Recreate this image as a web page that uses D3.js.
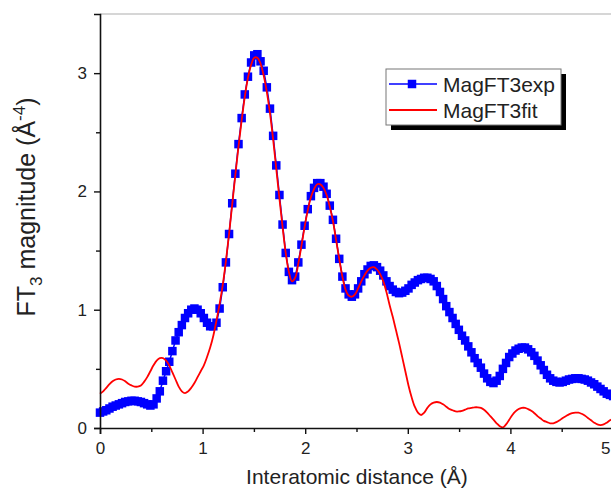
<!DOCTYPE html>
<html>
<head>
<meta charset="utf-8">
<script src="https://cdn.jsdelivr.net/npm/d3@7"></script>
<style>
  body { margin: 0; background: #fff; }
  svg { display: block; font-family: "Liberation Sans", Arial, sans-serif; }
</style>
</head>
<body>
<div id="chart"></div>
<script>
// R grid step of the transform (Å)
var rStep = 0.03068;

// MagFT3exp, one value per grid point
var expValues = [
  0.13, 0.14, 0.15, 0.165, 0.18, 0.19, 0.20, 0.21, 0.22, 0.225,
  0.23, 0.23, 0.225, 0.22, 0.21, 0.20, 0.19, 0.20, 0.25, 0.31,
  0.40, 0.48, 0.56, 0.65, 0.74, 0.81, 0.87, 0.93, 0.97, 1.00,
  1.01, 1.00, 0.97, 0.93, 0.89, 0.86, 0.86, 0.89, 1.01, 1.19,
  1.40, 1.64, 1.90, 2.15, 2.40, 2.62, 2.82, 2.97, 3.09, 3.15,
  3.16, 3.10, 3.02, 2.88, 2.70, 2.47, 2.22, 1.97, 1.72, 1.48,
  1.32, 1.25, 1.28, 1.40, 1.55, 1.71, 1.85, 1.96, 2.03, 2.07,
  2.07, 2.04, 1.98, 1.88, 1.76, 1.60, 1.43, 1.28, 1.18, 1.13,
  1.11, 1.13, 1.18, 1.24, 1.30, 1.34, 1.37, 1.375, 1.36, 1.33,
  1.29, 1.24, 1.20, 1.17, 1.15, 1.14, 1.145, 1.16, 1.18, 1.21,
  1.23, 1.25, 1.26, 1.27, 1.27, 1.26, 1.24, 1.20, 1.15, 1.09,
  1.03, 0.98, 0.93, 0.88, 0.83, 0.78, 0.74, 0.69, 0.64, 0.59,
  0.55, 0.51, 0.46, 0.42, 0.39, 0.38, 0.40, 0.44, 0.50, 0.55,
  0.60, 0.63, 0.655, 0.67, 0.68, 0.68, 0.665, 0.64, 0.61, 0.57,
  0.53, 0.49, 0.45, 0.42, 0.40, 0.39, 0.385, 0.39, 0.40, 0.41,
  0.415, 0.42, 0.42, 0.415, 0.41, 0.40, 0.385, 0.37, 0.35, 0.33,
  0.31, 0.29, 0.28, 0.27
];

// MagFT3fit, same grid
var fitValues = [
  0.29, 0.31, 0.34, 0.37, 0.395, 0.41, 0.415, 0.41, 0.395, 0.375,
  0.36, 0.35, 0.35, 0.36, 0.39, 0.43, 0.48, 0.53, 0.57, 0.59,
  0.59, 0.57, 0.53, 0.47, 0.41, 0.35, 0.31, 0.295, 0.31, 0.34,
  0.38, 0.43, 0.48, 0.53, 0.60, 0.68, 0.78, 0.91, 1.05, 1.21,
  1.41, 1.64, 1.89, 2.14, 2.38, 2.60, 2.80, 2.96, 3.07, 3.13,
  3.13, 3.08, 2.98, 2.84, 2.66, 2.44, 2.19, 1.94, 1.70, 1.48,
  1.32, 1.24, 1.27, 1.39, 1.54, 1.70, 1.84, 1.95, 2.02, 2.06,
  2.06, 2.03, 1.97, 1.87, 1.75, 1.59, 1.43, 1.28, 1.17, 1.12,
  1.11, 1.13, 1.18, 1.24, 1.29, 1.33, 1.355, 1.36, 1.34, 1.30,
  1.24, 1.15, 1.04, 0.94, 0.83, 0.72, 0.60, 0.48, 0.36, 0.26,
  0.18, 0.13, 0.11, 0.13, 0.17, 0.20, 0.215, 0.22, 0.215, 0.20,
  0.18, 0.16, 0.15, 0.14, 0.14, 0.145, 0.155, 0.165, 0.17, 0.175,
  0.175, 0.17, 0.155, 0.13, 0.10, 0.07, 0.04, 0.015, 0.005, 0.03,
  0.07, 0.11, 0.14, 0.16, 0.17, 0.17, 0.16, 0.145, 0.125, 0.10,
  0.08, 0.06, 0.05, 0.04, 0.04, 0.05, 0.065, 0.085, 0.10, 0.115,
  0.125, 0.13, 0.13, 0.12, 0.105, 0.085, 0.065, 0.045, 0.03, 0.025,
  0.03, 0.045, 0.065, 0.08
];

var xTicks = [0, 1, 2, 3, 4, 5];
var yTicks = [0, 1, 2, 3];
var seriesNames = ["MagFT3exp", "MagFT3fit"];

var width = 611, height = 490;
var margin = { top: 14, left: 100, bottom: 62 };

var svg = d3.select("#chart")
  .append("svg")
  .attr("width", width)
  .attr("height", height);

var x = d3.scaleLinear().domain([0, 5]).range([margin.left, 613]);
var y = d3.scaleLinear().domain([0, 3.5]).range([height - margin.bottom, margin.top]);

var expData = expValues.map(function (v, i) { return { r: i * rStep, v: v }; });
var fitData = fitValues.map(function (v, i) { return { r: i * rStep, v: v }; });

// top frame line (light grey)
svg.append("line")
  .attr("x1", x(0)).attr("x2", width)
  .attr("y1", y(3.5)).attr("y2", y(3.5))
  .attr("stroke", "#c8c8c8")
  .attr("stroke-width", 1.5);

var line = d3.line()
  .x(function (d) { return x(d.r); })
  .y(function (d) { return y(d.v); });

var smooth = d3.line()
  .curve(d3.curveCatmullRom)
  .x(function (d) { return x(d.r); })
  .y(function (d) { return y(d.v); });

// experimental: blue line + square markers
svg.append("path")
  .datum(expData)
  .attr("d", line)
  .attr("fill", "none")
  .attr("stroke", "#0000ff")
  .attr("stroke-width", 1.5);

var markerSize = 8.5;
svg.selectAll("expMarkers")
  .data(expData)
  .enter()
  .append("rect")
  .attr("x", function (d) { return x(d.r) - markerSize / 2; })
  .attr("y", function (d) { return y(d.v) - markerSize / 2; })
  .attr("width", markerSize)
  .attr("height", markerSize)
  .attr("fill", "#0000ff");

// fit: red line
svg.append("path")
  .datum(fitData)
  .attr("d", smooth)
  .attr("fill", "none")
  .attr("stroke", "#ff0000")
  .attr("stroke-width", 1.8);

// axes
var xAxis = svg.append("g")
  .attr("transform", "translate(0," + y(0) + ")")
  .call(d3.axisBottom(x).tickValues(xTicks).tickFormat(d3.format("d")).tickSize(6).tickPadding(8));
var yAxis = svg.append("g")
  .attr("transform", "translate(" + x(0) + ",0)")
  .call(d3.axisLeft(y).tickValues(yTicks).tickFormat(d3.format("d")).tickSize(6).tickPadding(7));

// last x label sits at the window edge, keep it inside
xAxis.selectAll(".tick text")
  .filter(function (d) { return d === 5; })
  .attr("text-anchor", "end")
  .attr("x", -3);

// minor ticks at the half units
svg.append("g")
  .attr("transform", "translate(0," + y(0) + ")")
  .call(d3.axisBottom(x).tickValues([0.5, 1.5, 2.5, 3.5, 4.5]).tickFormat("").tickSize(4))
  .select(".domain").remove();
svg.append("g")
  .attr("transform", "translate(" + x(0) + ",0)")
  .call(d3.axisLeft(y).tickValues([0.5, 1.5, 2.5]).tickFormat("").tickSize(4))
  .select(".domain").remove();

svg.selectAll(".domain").attr("stroke", "#111").attr("stroke-width", 1.6);
svg.selectAll(".tick line").attr("stroke", "#111").attr("stroke-width", 1.4);
svg.selectAll(".tick text")
  .style("font-size", "17px")
  .style("font-family", "'Liberation Sans', Arial, sans-serif")
  .attr("fill", "#222");

// axis titles
svg.append("text")
  .attr("x", 357)
  .attr("y", 484)
  .attr("text-anchor", "middle")
  .style("font-size", "21px")
  .attr("fill", "#222")
  .text("Interatomic distance (Å)");

var yTitle = svg.append("text")
  .attr("transform", "translate(35,207) rotate(-90)")
  .attr("text-anchor", "middle")
  .style("font-size", "25px")
  .attr("fill", "#222");
yTitle.append("tspan").text("FT");
yTitle.append("tspan").attr("dy", 7).style("font-size", "17px").text("3");
yTitle.append("tspan").attr("dy", -7).text(" magnitude (Å");
yTitle.append("tspan").attr("dy", -10).style("font-size", "17px").text("-4");
yTitle.append("tspan").attr("dy", 10).text(")");

// legend
var legend = svg.append("g");
legend.append("rect")
  .attr("x", 391).attr("y", 74).attr("width", 175).attr("height", 56)
  .attr("fill", "#000");
legend.append("rect")
  .attr("x", 386).attr("y", 69).attr("width", 175).attr("height", 56)
  .attr("fill", "#fff")
  .attr("stroke", "#777")
  .attr("stroke-width", 1);

legend.append("line")
  .attr("x1", 389).attr("x2", 437).attr("y1", 84).attr("y2", 84)
  .attr("stroke", "#0000ff").attr("stroke-width", 1.5);
legend.append("rect")
  .attr("x", 412 - markerSize / 2).attr("y", 84 - markerSize / 2)
  .attr("width", markerSize).attr("height", markerSize)
  .attr("fill", "#0000ff");
legend.append("line")
  .attr("x1", 389).attr("x2", 437).attr("y1", 110).attr("y2", 110)
  .attr("stroke", "#ff0000").attr("stroke-width", 1.8);

legend.selectAll("legendText")
  .data(seriesNames)
  .enter()
  .append("text")
  .attr("x", 443)
  .attr("y", function (d, i) { return 92 + i * 26; })
  .style("font-size", "21px")
  .attr("fill", "#222")
  .text(function (d) { return d; });
</script>
</body>
</html>
